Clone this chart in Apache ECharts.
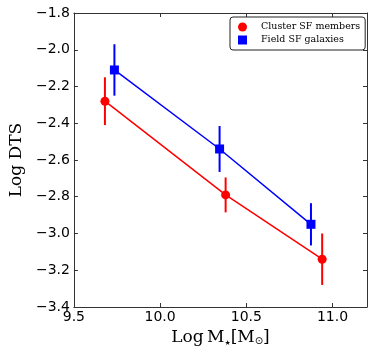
<!DOCTYPE html>
<html>
<head>
<meta charset="utf-8">
<script src="https://cdn.jsdelivr.net/npm/echarts@6/dist/echarts.min.js"></script>
<style>html,body{margin:0;padding:0;background:#fff}#c{width:374px;height:356px}</style>
</head>
<body>
<div id="c"></div>
<script>
const clusterX = [9.68, 10.38, 10.94];
const clusterY = [-2.28, -2.79, -3.14];
const clusterErr = [0.13, 0.095, 0.14];
const fieldX = [9.735, 10.345, 10.875];
const fieldY = [-2.11, -2.54, -2.95];
const fieldErr = [0.14, 0.125, 0.115];
const seriesNames = ['Cluster SF members', 'Field SF galaxies'];

const chart = echarts.init(document.getElementById('c'), null, {renderer: 'canvas'});
const fmt = v => (v < 0 ? '\u2212' : '') + Math.abs(v).toFixed(1);
const axisColor = '#333';
const pairs = (xs, ys) => xs.map((x, i) => [x, ys[i]]);
const errData = (xs, ys, es) => xs.map((x, i) => [x, ys[i] - es[i], ys[i] + es[i]]);
function errRender(color) {
  return function (params, api) {
    const p1 = api.coord([api.value(0), api.value(1)]);
    const p2 = api.coord([api.value(0), api.value(2)]);
    return {type: 'line', shape: {x1: p1[0], y1: p1[1], x2: p2[0], y2: p2[1]},
      style: {stroke: color, lineWidth: 2}};
  };
}
const xCommon = {type: 'value', min: 9.5, max: 11.2, interval: 0.5,
  axisLine: {show: true, lineStyle: {color: axisColor, width: 1}},
  axisTick: {show: true, inside: true, length: 4, lineStyle: {color: axisColor}},
  splitLine: {show: false}};
const yCommon = {type: 'value', min: -3.4, max: -1.8, interval: 0.2,
  axisLine: {show: true, lineStyle: {color: axisColor, width: 1}},
  axisTick: {show: true, inside: true, length: 4, lineStyle: {color: axisColor}},
  splitLine: {show: false}};

chart.setOption({
  animation: false,
  grid: {left: 70, right: 7, top: 13, bottom: 49, containLabel: false},
  xAxis: [
    Object.assign({}, xCommon, {position: 'bottom',
      axisLabel: {show: true, formatter: fmt, color: '#000', fontFamily: 'DejaVu Sans', fontSize: 14, margin: 3, showMaxLabel: false, showMinLabel: true},
      name: '{n|Log\u2009M}{s|\u2605}{n|[M}{o|\u2299}{n|]}', nameLocation: 'middle', nameGap: 19,
      nameTextStyle: {rich: {
        n: {fontFamily: 'DejaVu Serif', fontSize: 17, color: '#000'},
        s: {fontFamily: 'DejaVu Sans', fontSize: 7, color: '#000', verticalAlign: 'bottom', padding: [9, 0, 0, 0]},
        o: {fontFamily: 'DejaVu Sans', fontSize: 10, color: '#000', verticalAlign: 'bottom', padding: [8, 0, 0, 0]}
      }}}),
    Object.assign({}, xCommon, {position: 'top', axisLabel: {show: false}})
  ],
  yAxis: [
    Object.assign({}, yCommon, {position: 'left',
      axisLabel: {show: true, formatter: fmt, color: '#000', fontFamily: 'DejaVu Sans', fontSize: 14, margin: 4},
      name: 'Log DTS', nameLocation: 'middle', nameGap: 48,
      nameTextStyle: {fontFamily: 'DejaVu Serif', fontSize: 17, color: '#000'}}),
    Object.assign({}, yCommon, {position: 'right', axisLabel: {show: false}})
  ],
  legend: {
    left: 230, top: 17, orient: 'vertical',
    borderColor: '#222', borderWidth: 1, borderRadius: 3, backgroundColor: '#fff',
    padding: [5, 5, 5, 8], itemGap: 3, itemWidth: 9, itemHeight: 9,
    textStyle: {fontFamily: 'DejaVu Serif', fontSize: 9.5, color: '#000', padding: [0, 0, 0, 9]},
    data: [{name: seriesNames[0], icon: 'circle'}, {name: seriesNames[1], icon: 'rect'}]
  },
  series: [
    {type: 'custom', renderItem: errRender('#ff0000'), data: errData(clusterX, clusterY, clusterErr), z: 1, silent: true},
    {type: 'custom', renderItem: errRender('#0000ff'), data: errData(fieldX, fieldY, fieldErr), z: 1, silent: true},
    {name: seriesNames[0], type: 'line', data: pairs(clusterX, clusterY), symbol: 'circle', symbolSize: 9,
      lineStyle: {color: '#ff0000', width: 1.5}, itemStyle: {color: '#ff0000'}, z: 3},
    {name: seriesNames[1], type: 'line', data: pairs(fieldX, fieldY), symbol: 'rect', symbolSize: 9,
      lineStyle: {color: '#0000ff', width: 1.5}, itemStyle: {color: '#0000ff'}, z: 3}
  ]
});
</script>
</body>
</html>
